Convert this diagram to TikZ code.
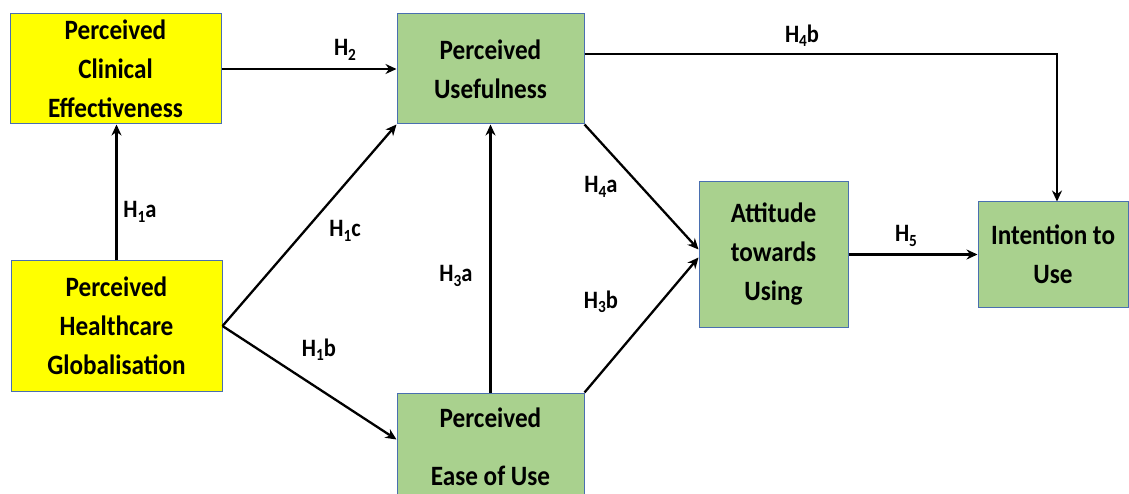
\documentclass[tikz,border=0pt]{standalone}
\usepackage{fontspec}
\setmainfont{Carlito}
\newfontfamily\condfont{Carlito}[FakeStretch=0.9]
\usetikzlibrary{arrows.meta,calc}
\definecolor{boxyellow}{HTML}{FFFF00}
\definecolor{boxgreen}{HTML}{A9D18E}
\definecolor{boxedge}{HTML}{4A6FB0}
\newcommand{\hsub}[1]{\raisebox{-0.35ex}{\fontsize{17}{17}\selectfont #1}}
\tikzset{
  box/.style={draw=boxedge, line width=1pt, inner sep=0pt, align=center,
    font=\condfont\bfseries\fontsize{28}{39}\selectfont},
  ybox/.style={box, fill=boxyellow},
  gbox/.style={box, fill=boxgreen},
  txt/.style={inner sep=0pt, align=center, font=\condfont\bfseries\fontsize{28}{39}\selectfont},
  lab/.style={inner sep=0pt, font=\condfont\bfseries\fontsize{25}{28}\selectfont},
  conn/.style={line width=2.3pt, -{Stealth[length=11pt,width=10pt]}},
}
\begin{document}
\begin{tikzpicture}[x=1pt,y=-1pt]
\useasboundingbox (0,0) rectangle (1129,494);
\clip (0,0) rectangle (1129,494);
% nodes
\node[ybox, minimum width=211pt, minimum height=110pt] (pce) at (115.5,69) {Perceived\\Clinical\\Effectiveness};
\node[gbox, minimum width=187pt, minimum height=110pt] (pu) at (490.5,69) {Perceived\\Usefulness};
\node[ybox, minimum width=211pt, minimum height=130pt] (phg) at (116.5,326) {Perceived\\Healthcare\\Globalisation};
\node[gbox, minimum width=187pt, minimum height=127pt] (peou) at (490.5,456.5) {};
\node[txt] (peoutext) at (490.5,447) {Perceived\\[19pt]Ease of Use};
\node[gbox, minimum width=149pt, minimum height=145pt] (atu) at (773.5,254.5) {Attitude\\towards\\Using};
\node[gbox, minimum width=150pt, minimum height=105pt] (itu) at (1053,254.5) {Intention to\\Use};
% connectors
\draw[conn] (pce.east) -- (pce.east -| pu.west);
\draw[conn] (phg.north) -- (phg.north |- pce.south);
\draw[conn] (phg.east) -- (pu.south west);
\draw[conn] (phg.east) -- ([yshift=-47pt]peou.north west);
\draw[conn] (peou.north) -- (pu.south);
\draw[conn] (pu.south east) -- ([yshift=5pt]atu.west);
\draw[conn] (peou.north east) -- ([yshift=-3pt]atu.west);
\draw[conn] ([yshift=15pt]pu.east) -| ([xshift=4pt]itu.north);
\draw[conn] (atu.east) -- (itu.west);
% labels
\node[lab] (l2) at (345,50) {H\hsub{2}};
\node[lab] (l1a) at (140,212) {H\hsub{1}a};
\node[lab] (l1c) at (345,231) {H\hsub{1}c};
\node[lab] (l1b) at (319,350) {H\hsub{1}b};
\node[lab] (l3a) at (456,276) {H\hsub{3}a};
\node[lab] (l4a) at (601,187) {H\hsub{4}a};
\node[lab] (l3b) at (601,302) {H\hsub{3}b};
\node[lab] (l4b) at (802,36) {H\hsub{4}b};
\node[lab] (l5) at (906,236) {H\hsub{5}};
\end{tikzpicture}
\end{document}
